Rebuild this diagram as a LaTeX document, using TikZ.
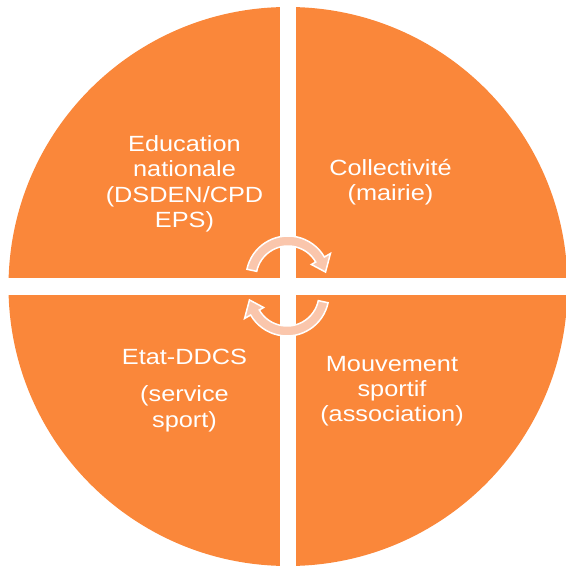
\documentclass[tikz,border=0pt]{standalone}
\usepackage{fontspec}
\setmainfont{Liberation Sans}[FakeStretch=1.15]
\usetikzlibrary{positioning}

\definecolor{quadorange}{RGB}{250,135,58}
\definecolor{arrowpeach}{RGB}{250,198,172}

\tikzset{
	quadrant/.style={fill=quadorange},
	gapband/.style={fill=white},
	cyclearrow/.style={fill=arrowpeach, draw=white, line width=1.5pt},
	quadtext/.style={text=white, align=center, anchor=base, inner sep=0pt,
		font=\fontsize{22}{25.5}\selectfont}
}

\begin{document}
\begin{tikzpicture}[x=1pt, y=1pt]
	\useasboundingbox (0,0) rectangle (566,566);
	\clip (0,0) rectangle (566,566);

	\fill[quadrant] (288,279.5) circle[radius=279.5];
	\fill[gapband] (280,-5) rectangle (296,571);
	\fill[gapband] (-5,271) rectangle (571,288);

	\foreach \cx/\cy/\rot in {288/288/0, 287/272/180}{
		\begin{scope}[shift={(\cx,\cy)}, rotate=\rot]
			\filldraw[cyclearrow] (168:42) arc[start angle=168, end angle=30, radius=42]
				-- (30:49) -- (9:38) -- (30:27) -- (30:32)
				arc[start angle=30, end angle=168, radius=32] -- cycle;
		\end{scope}
	}

	\node[quadtext] (edu)  at (184.5,338) {Education\\nationale\\(DSDEN/CPD\\EPS)};
	\node[quadtext] (coll) at (390.5,365) {Collectivité\\(mairie)};
	\node[quadtext] (etat) at (184.5,139) {Etat-DDCS\\[12pt](service\\sport)};
	\node[quadtext] (mouv) at (392,144)   {Mouvement\\sportif\\(association)};
\end{tikzpicture}
\end{document}
